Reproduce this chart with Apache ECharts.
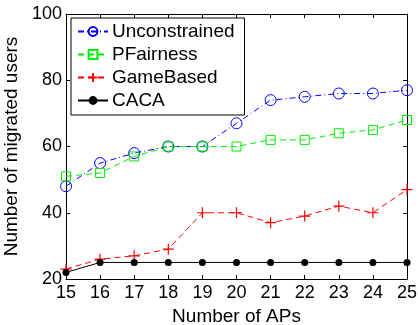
<!DOCTYPE html>
<html>
<head>
<meta charset="utf-8">
<script src="https://cdn.jsdelivr.net/npm/echarts@6/dist/echarts.min.js"></script>
<style>
  html, body { margin: 0; padding: 0; background: #fff; }
  #chart { width: 418px; height: 325px; }
</style>
</head>
<body>
<div id="chart"></div>
<script>
const aps = [15, 16, 17, 18, 19, 20, 21, 22, 23, 24, 25];
const unconstrained = [48, 55, 58, 60, 60, 67, 74, 75, 76, 76, 77];
const pfairness = [51, 52, 57, 60, 60, 60, 62, 62, 64, 65, 68];
const gameBased = [23, 26, 27, 29, 40, 40, 37, 39, 42, 40, 47];
const caca = [22, 25, 25, 25, 25, 25, 25, 25, 25, 25, 25];

const font = 'Liberation Sans, Arial, sans-serif';
const pair = vals => aps.map((x, i) => [x, vals[i]]);

const chart = echarts.init(document.getElementById('chart'));

chart.setOption({
  animation: false,
  grid: { left: 66, right: 11, top: 14, bottom: 46, outerBoundsMode: 'none', containLabel: false },
  legend: {
    orient: 'vertical',
    left: 71,
    top: 18,
    padding: [4, 10, 5, 6],
    itemGap: 4,
    itemWidth: 30,
    itemHeight: 11,
    borderColor: '#000',
    borderWidth: 1,
    textStyle: { fontFamily: font, fontSize: 19, color: '#000', padding: [0, 0, 0, -1] },
    data: ['Unconstrained', 'PFairness', 'GameBased', 'CACA']
  },
  xAxis: [{
    type: 'value',
    min: 15, max: 25, interval: 1,
    name: 'Number of APs',
    nameLocation: 'middle',
    nameGap: 21,
    nameTextStyle: { fontFamily: font, fontSize: 19, color: '#000' },
    axisLine: { onZero: false, lineStyle: { color: '#000', width: 1 } },
    axisTick: { inside: true, length: 4, lineStyle: { color: '#000' } },
    axisLabel: { fontFamily: font, fontSize: 18, color: '#000', margin: 5 },
    splitLine: { show: false }
  }, {
    type: 'value',
    position: 'top',
    min: 15, max: 25, interval: 1,
    axisLine: { show: true, onZero: false, lineStyle: { color: '#000' } },
    axisTick: { inside: true, length: 4, lineStyle: { color: '#000' } },
    axisLabel: { show: false },
    splitLine: { show: false }
  }],
  yAxis: [{
    type: 'value',
    min: 20, max: 100, interval: 20,
    name: 'Number of migrated users',
    nameLocation: 'middle',
    nameGap: 40,
    nameTextStyle: { fontFamily: font, fontSize: 19, color: '#000' },
    axisLine: { show: true, onZero: false, lineStyle: { color: '#000', width: 1 } },
    axisTick: { show: true, inside: true, length: 4, lineStyle: { color: '#000' } },
    axisLabel: { fontFamily: font, fontSize: 18, color: '#000', margin: 4 },
    splitLine: { show: false }
  }, {
    type: 'value',
    position: 'right',
    min: 20, max: 100, interval: 20,
    axisLine: { show: true, onZero: false, lineStyle: { color: '#000' } },
    axisTick: { show: true, inside: true, length: 4, lineStyle: { color: '#000' } },
    axisLabel: { show: false },
    splitLine: { show: false }
  }],
  series: [{
    name: 'Unconstrained',
    type: 'line',
    data: pair(unconstrained),
    symbol: 'circle',
    symbolSize: 11,
    color: '#0000ff',
    lineStyle: { width: 1, color: '#0000ff', type: [6, 3, 1, 3] },
    itemStyle: { color: 'rgba(255,255,255,0)', borderColor: '#0000ff', borderWidth: 1 }
  }, {
    name: 'PFairness',
    type: 'line',
    data: pair(pfairness),
    symbol: 'rect',
    symbolSize: 9,
    color: '#00ee00',
    lineStyle: { width: 1, color: '#00ee00', type: [6, 4] },
    itemStyle: { color: 'rgba(255,255,255,0)', borderColor: '#00ee00', borderWidth: 1 }
  }, {
    name: 'GameBased',
    type: 'line',
    data: pair(gameBased),
    symbol: 'path://M0,5L10,5M5,0L5,10',
    symbolSize: 11,
    color: '#ff0000',
    lineStyle: { width: 1, color: '#ff0000', type: [6, 4] },
    itemStyle: { color: 'none', borderColor: '#ff0000', borderWidth: 1.2 }
  }, {
    name: 'CACA',
    type: 'line',
    data: pair(caca),
    symbol: 'circle',
    symbolSize: 7,
    color: '#000',
    lineStyle: { width: 1, color: '#000' },
    itemStyle: { color: '#000' }
  }]
});
</script>
</body>
</html>
